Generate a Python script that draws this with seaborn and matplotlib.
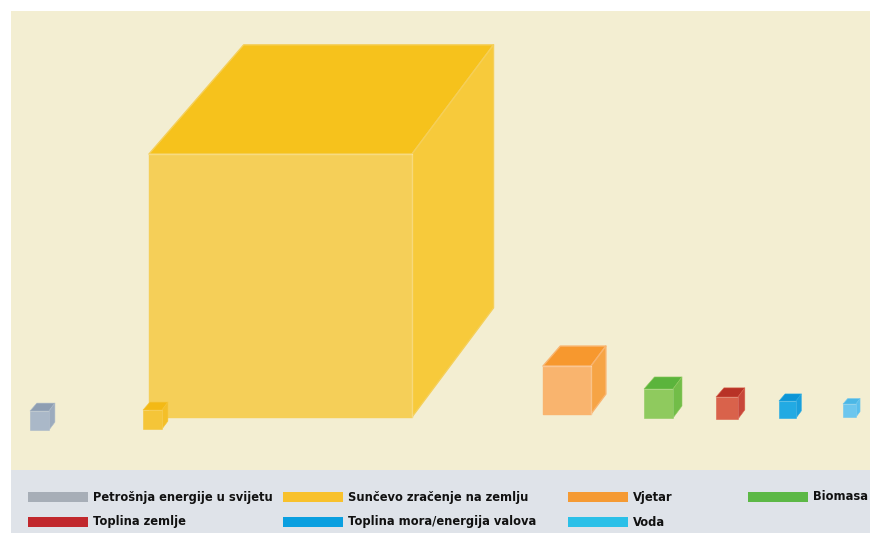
import matplotlib
matplotlib.use("Agg")
import matplotlib.pyplot as plt
from matplotlib.patches import Polygon, Rectangle
import seaborn as sns

# ---- data (cube side lengths, relative units) ----
categories = ["Petrošnja energije u svijetu", "Sunčevo zračenje na zemlju", "Vjetar",
              "Biomasa", "Toplina zemlje", "Toplina mora/energija valova", "Voda"]
sides = [19, 263, 48, 29, 22, 17, 13]

# ---- styling / layout ----
legend_colors = ["#a7aeb7", "#f8c12c", "#f59a33", "#5cb846", "#c1282d", "#0a9fe0", "#2bc0e8"]
face_front = ["#aab8c8", "#f5cf58", "#f9b46e", "#8fca5e", "#d9624b", "#22aae3", "#6cc6ee"]
face_top = ["#8e9eb2", "#f6c21c", "#f7982e", "#5bb43c", "#b83226", "#0c95d6", "#4bb7e6"]
face_right = ["#9cabbd", "#f7ca3b", "#f6a445", "#72bd48", "#c8473a", "#1a9fdc", "#5abfec"]
x_left = [30, 149, 543, 644, 716, 779, 843]
y_bottom = [430, 417, 414, 418, 419, 418, 417]
legend_pos = [(28, 497), (283, 497), (568, 497), (748, 497),
              (28, 522), (283, 522), (568, 522)]

sns.set_theme(style="white")
plt.rcParams['font.family'] = ['DejaVu Sans']

fig = plt.figure(figsize=(8.76, 5.37), dpi=100)
ax = fig.add_axes([0, 0, 1, 1])
ax.set_xlim(0, 876)
ax.set_ylim(537, 0)
ax.axis("off")

# backgrounds
ax.add_patch(Rectangle((11, 11), 859, 459, facecolor="#f3eed2", edgecolor="none", zorder=0))
ax.add_patch(Rectangle((11, 470), 859, 63, facecolor="#dfe3e9", edgecolor="none", zorder=0))


def cube(x0, yb, s, cf, ct, cr, z=2):
    dx, dy = 0.31 * s, 0.415 * s
    dxl = 0.36 * s
    yt = yb - s
    front = [(x0, yb), (x0 + s, yb), (x0 + s, yt), (x0, yt)]
    top = [(x0, yt), (x0 + s, yt), (x0 + s + dx, yt - dy), (x0 + dxl, yt - dy)]
    right = [(x0 + s, yb), (x0 + s + dx, yb - dy), (x0 + s + dx, yt - dy), (x0 + s, yt)]
    lw = 1.0 if s > 40 else 0.4
    for pts, c in ((front, cf), (top, ct), (right, cr)):
        ax.add_patch(Polygon(pts, closed=True, facecolor=c, edgecolor=cf,
                             linewidth=lw, joinstyle="round", zorder=z))
    ax.plot([x0 + s, x0 + s], [yb, yt], color="white", alpha=0.25, lw=lw, zorder=z + 0.1)
    ax.plot([x0, x0 + s], [yt, yt], color="white", alpha=0.25, lw=lw, zorder=z + 0.1)


for i, s in enumerate(sides):
    cube(x_left[i], y_bottom[i], s, face_front[i], face_top[i], face_right[i])

# small reference cube (world consumption) inside the sun cube
cube(x_left[1] - 6, y_bottom[0] - 1, sides[0], "#f5c538", "#f3b915", "#f4bf28", z=3)

# legend
for (lx, ly), lab, col in zip(legend_pos, categories, legend_colors):
    ax.add_patch(Rectangle((lx, ly - 5), 60, 10, facecolor=col, edgecolor="none", zorder=2))
    ax.text(lx + 65, ly, lab, fontsize=8.3, fontweight="bold", color="#111111",
            va="center", ha="left", zorder=3)

fig.savefig("out.png", dpi=100, facecolor="white")
